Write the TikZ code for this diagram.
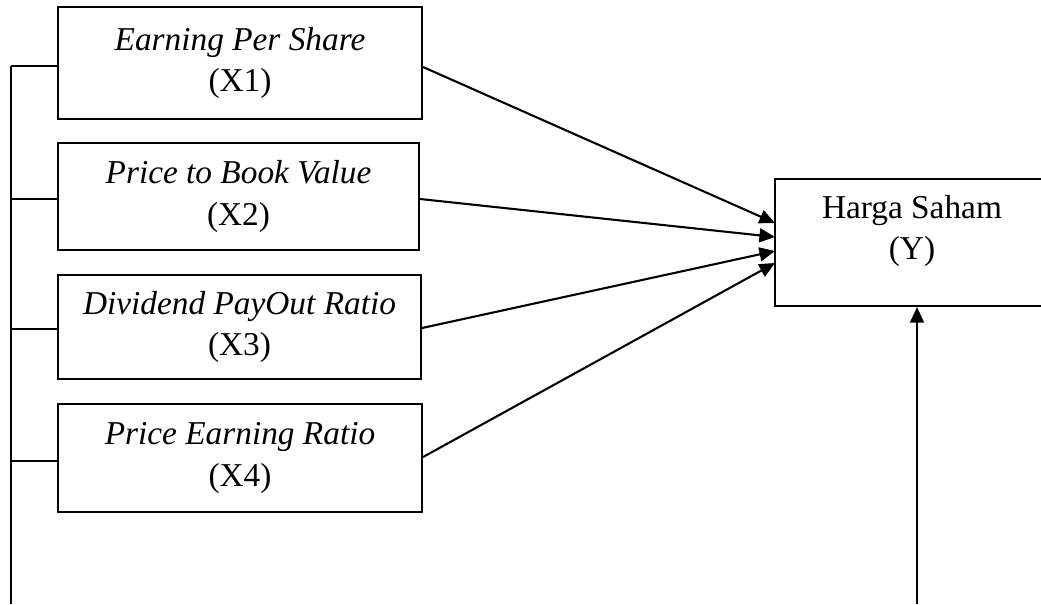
\documentclass[tikz,border=0pt]{standalone}
\usepackage{fontspec}
\setmainfont{Liberation Serif}
\usetikzlibrary{arrows.meta}
\begin{document}
\begin{tikzpicture}[x=0.36pt,y=-0.36pt,
  every node/.style={font=\fontsize{12}{15}\selectfont},
  varbox/.style={draw,line width=0.75pt,rectangle,inner sep=0pt,align=center},
  link/.style={line width=0.75pt},
  arr/.style={line width=0.75pt,-{Triangle[length=5.6pt,width=5pt]}}]
\clip (0,0) rectangle (1041,604);
\fill[white] (0,0) rectangle (1041,604);
% variable boxes
\node[varbox,minimum width=364*0.36pt,minimum height=112*0.36pt] (x1) at (240,63) {\textit{Earning Per Share}\\(X1)};
\node[varbox,minimum width=361*0.36pt,minimum height=107*0.36pt] (x2) at (238.5,196.5) {\textit{Price to Book Value}\\(X2)};
\node[varbox,minimum width=363*0.36pt,minimum height=104*0.36pt] (x3) at (239.5,327) {\textit{Dividend PayOut Ratio}\\(X3)};
\node[varbox,minimum width=364*0.36pt,minimum height=108*0.36pt] (x4) at (240,458) {\textit{Price Earning Ratio}\\(X4)};
% dependent box (right edge runs off the page)
\node[varbox,minimum width=280*0.36pt,minimum height=127*0.36pt] (y) at (915,242.5) {};
\node[align=center,inner sep=0pt] (ytext) at (912,231) {Harga Saham\\(Y)};
% left bracket line
\coordinate (ltop) at (11,66);
\coordinate (lbot) at (11,604);
\draw[link] (ltop) -- (lbot);
\draw[link] (ltop) -- (x1.west |- ltop);
\coordinate (l2) at (11,199);
\coordinate (l3) at (11,329);
\coordinate (l4) at (11,461);
\draw[link] (l2) -- (x2.west |- l2);
\draw[link] (l3) -- (x3.west |- l3);
\draw[link] (l4) -- (x4.west |- l4);
% arrows to Y
\coordinate (e1) at (775,223);
\coordinate (e2) at (775,237);
\coordinate (e3) at (775,251);
\coordinate (e4) at (775,263);
\draw[arr] (x1.east |- 0,67) -- (e1);
\draw[arr] (x2.east |- 0,199) -- (e2);
\draw[arr] (x3.east |- 0,328) -- (e3);
\draw[arr] (x4.east |- 0,457) -- (e4);
% bottom arrow
\coordinate (b) at (917,604);
\draw[arr] (b) -- (y.south -| b);
\end{tikzpicture}
\end{document}
